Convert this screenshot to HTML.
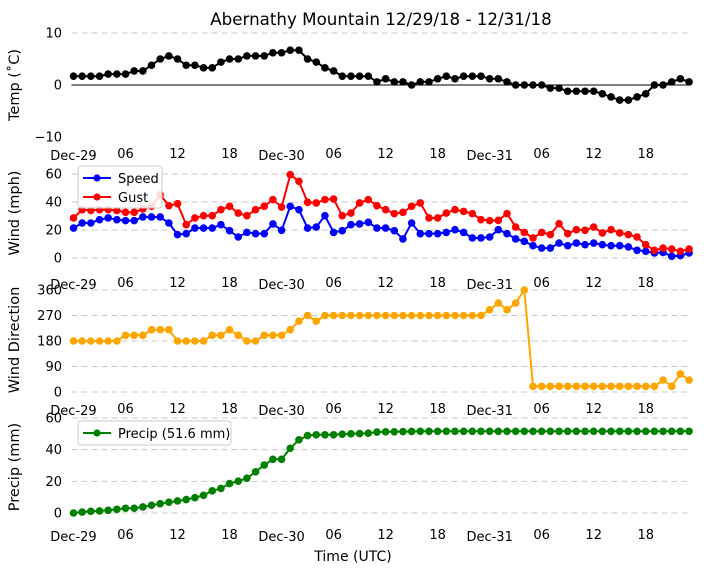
<!DOCTYPE html>
<html><head><meta charset="utf-8"><style>
body{margin:0;background:#fff;}
svg{display:block;font-family:"DejaVu Sans","Liberation Sans",sans-serif;}
</style></head><body>
<svg id="chart" width="704" height="573" viewBox="0 0 704 573" xmlns="http://www.w3.org/2000/svg">
<text x="381" y="25" font-size="16.7" text-anchor="middle">Abernathy Mountain 12/29/18 - 12/31/18</text>
<text x="353" y="561" font-size="14" text-anchor="middle">Time (UTC)</text>
</svg>
<script>
const tempValues=[1.7,1.7,1.7,1.7,2.1,2.1,2.1,2.7,2.7,3.8,5.0,5.6,5.0,3.8,3.8,3.3,3.3,4.4,5.0,5.0,5.6,5.6,5.6,6.2,6.2,6.7,6.7,5.0,4.4,3.3,2.7,1.7,1.7,1.7,1.7,0.6,
1.2,0.6,0.6,0,0.6,0.6,1.2,1.7,1.2,1.7,1.7,1.7,1.2,1.2,0.6,0,0,0,0,-0.6,-0.6,-1.2,-1.2,-1.2,-1.2,-1.7,-2.3,-2.9,-2.9,-2.3,-1.7,0,0,0.6,1.2,0.6];
const speedValues=[21.4,25,25,27.4,28.6,27.4,26.7,26.7,29.3,29.3,29.3,25,16.7,17.4,21.4,21.4,21.4,23.8,19.5,15,18.3,17.4,17.4,24.3,19.8,36.9,34.5,21.4,22.1,30.2,18.3,19.5,23.8,24.3,25.5,21.4,
21.4,19.5,13.6,25,17.4,17.4,17.4,18.3,20.2,18.3,14.3,14.3,15,20.2,17.4,13.6,11.9,8.8,7.1,7.1,10.7,8.8,10.7,9.5,10.7,9.5,8.8,8.8,7.9,5.5,4.8,3.6,4,1.2,1.7,3.6];
const gustValues=[28.6,34.5,34,34.5,34.5,34,32.6,32.6,35,36.9,45.2,37.4,38.8,23.8,28.6,30.2,30.2,34.5,36.9,32.1,30.2,34.5,36.9,41.7,36.4,59.5,54.8,39.8,39.3,41.7,42.1,30.2,32.1,39.3,41.7,37.4,
34.5,31.7,32.6,36.9,39.3,28.6,28.6,32.1,34.5,33.3,31.7,27.4,26.7,26.9,31.7,22.1,18.3,14.3,18.3,16.7,24.5,17.4,20.2,19.8,22.1,17.9,20.2,17.9,16.7,15,9.5,5.5,7.1,6.4,4.8,6.4];
const dirValues=[180,180,180,180,180,180,200,200,200,220,220,220,180,180,180,180,200,200,220,200,180,180,200,200,200,220,250,270,250,270,270,270,270,270,270,270,
270,270,270,270,270,270,270,270,270,270,270,270,290,314,290,314,360,20,20,20,20,20,20,20,20,20,20,20,20,20,20,20,42,20,64,42];
const precipValues=[0,0.6,1.1,1.3,1.7,2.3,3,3,3.8,4.9,5.9,6.8,7.6,8.5,9.7,11.2,14,15.5,18.6,20.1,22,26,30.3,33.9,33.9,40.9,46.2,48.9,49.4,49.4,49.4,49.8,50,50.2,50.4,51.1,51.3,51.3,51.4,51.5,
51.6,51.6,51.6,51.6,51.6,51.6,51.6,51.6,51.6,51.6,51.6,51.6,51.6,51.6,51.6,51.6,51.6,51.6,51.6,51.6,51.6,51.6,51.6,51.6,51.6,51.6,51.6,51.6,51.6,51.6,51.6,51.6];
const xTickHours=[0,6,12,18,24,30,36,42,48,54,60,66];
const xTickLabels=["Dec-29","06","12","18","Dec-30","06","12","18","Dec-31","06","12","18"];
const tempTicks=[10,0,-10], windTicks=[0,20,40,60], dirTicks=[0,90,180,270,360], precipTicks=[0,20,40,60];

const NS="http://www.w3.org/2000/svg", svg=document.getElementById('chart');
function el(tag,attrs,parent){const e=document.createElementNS(NS,tag);for(const k in attrs)e.setAttribute(k,attrs[k]);(parent||svg).appendChild(e);return e;}
const X0=73.5, XSTEP=8.67, XR=690;
const xs=h=>X0+h*XSTEP;
function yScale(v0,y0,v1,y1){return v=>y0+(v-v0)*(y1-y0)/(v1-v0);}

function panel(name,ys,ticks,dashTicks,xLabelY,ylabel,ylabelY){
  const g=el('g',{});
  
  
  ticks.forEach(t=>{
    if(dashTicks.includes(t)){
      const l=el('line',{x1:X0-2,x2:XR,y1:ys(t),y2:ys(t),stroke:'#c8c8c8','stroke-dasharray':'6,4','stroke-width':1},g);
      
      
    }
    const tx=el('text',{x:62,y:ys(t)+4.5,'font-size':13,'text-anchor':'end'},g);
    
    
    tx.textContent=t<0?'\u2212'+(-t):String(t);
  });
  xTickHours.forEach((h,i)=>{
    const tx=el('text',{x:xs(h),y:xLabelY+(h%24===0?2:0),'font-size':13,'text-anchor':'middle'},g);
    
    
    tx.textContent=xTickLabels[i];
  });
  const yl=el('text',{x:19,y:ylabelY,'font-size':14.5,'text-anchor':'middle',transform:`rotate(-90 19 ${ylabelY})`},g);
  
  
  yl.textContent=ylabel;
  return g;
}
function series(g,name,vals,ys,color){
  const pts=vals.map((v,i)=>xs(i).toFixed(1)+','+ys(v).toFixed(1)).join(' ');
  const p=el('polyline',{points:pts,fill:'none',stroke:color,'stroke-width':2},g);
  
  
  vals.forEach((v,i)=>{
    const c=el('circle',{cx:xs(i),cy:ys(v),r:3.8,fill:color},g);
    
    
  });
}
function legend(g,name,x,y,w,h,items){
  const lg=el('g',{},g);
  
  
  el('rect',{x:x,y:y,width:w,height:h,rx:3,fill:'#fff','fill-opacity':0.85,stroke:'#ccc'},lg);
  items.forEach((it,i)=>{
    const cy=y+12+i*19;
    el('line',{x1:x+5,x2:x+33,y1:cy,y2:cy,stroke:it.c,'stroke-width':2},lg);
    el('circle',{cx:x+19,cy:cy,r:3.6,fill:it.c},lg);
    const t=el('text',{x:x+40,y:cy+5,'font-size':13},lg);
    
    
    t.textContent=it.t;
  });
}

const yT=yScale(10,33,-10,137);
const gT=panel('temp',yT,tempTicks,[10],158,'Temp (\u02DAC)',85);
const zl=el('line',{x1:X0-2,x2:XR,y1:yT(0),y2:yT(0),stroke:'#000','stroke-width':1},gT);


series(gT,'temp',tempValues,yT,'#000');

const yW=yScale(0,258,60,174);
const gW=panel('wind',yW,windTicks,windTicks,287,'Wind (mph)',213);
series(gW,'speed',speedValues,yW,'#0000ff');
series(gW,'gust',gustValues,yW,'#ff0000');
legend(gW,'wind-legend',78,166,84,42,[{c:'#0000ff',t:'Speed'},{c:'#ff0000',t:'Gust'}]);

const yD=yScale(0,392,360,290);
const gD=panel('direction',yD,dirTicks,dirTicks,413,'Wind Direction',340);
series(gD,'direction',dirValues,yD,'#ffa500');

const yP=yScale(0,513,60,418);
const gP=panel('precip',yP,precipTicks,precipTicks,539,'Precip (mm)',467);
series(gP,'precip',precipValues,yP,'#008000');
legend(gP,'precip-legend',78,421,153,24,[{c:'#008000',t:'Precip (51.6 mm)'}]);
</script>
</body></html>
